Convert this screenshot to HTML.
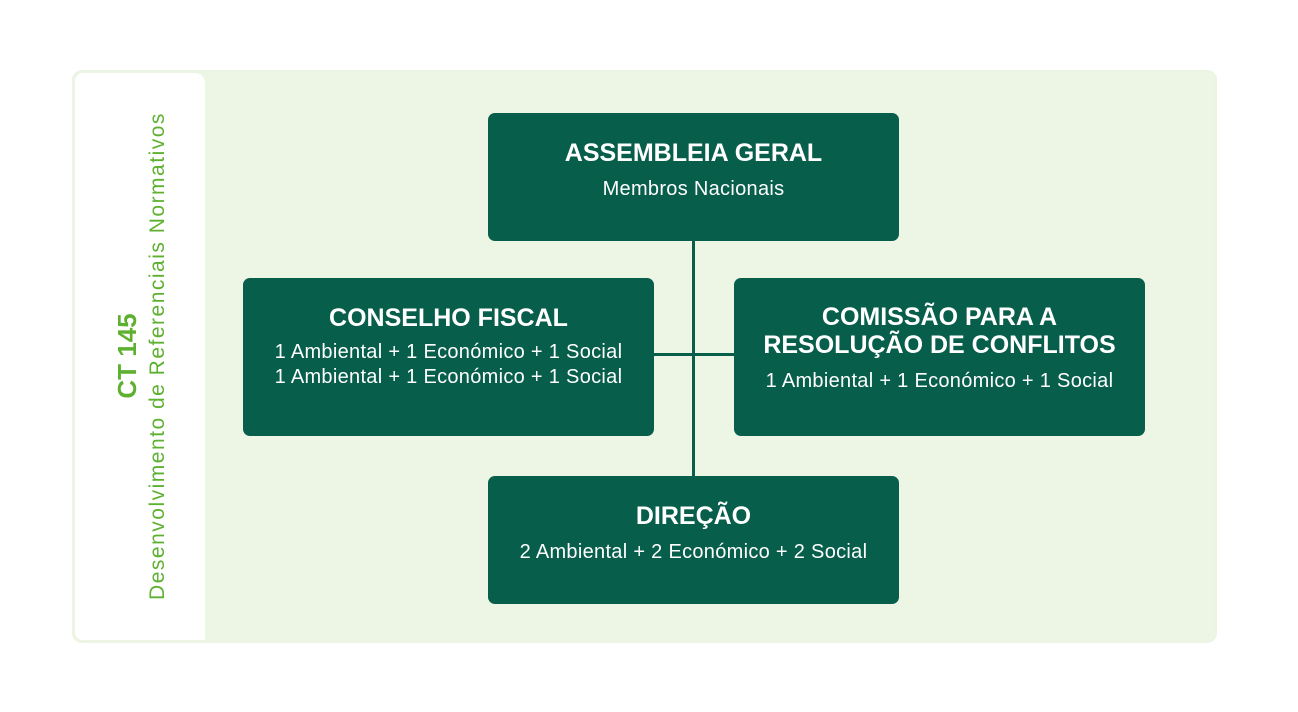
<!DOCTYPE html>
<html><head><style>
body{margin:0;width:1298px;height:712px;background:#fff;position:relative;font-family:"Liberation Sans",sans-serif;overflow:hidden}
.frame{position:absolute;left:72px;top:70px;width:1139px;height:567px;border:3px solid #ecf5e4;border-radius:10px;background:#edf5e5}
.white{position:absolute;left:75px;top:73px;width:130px;height:567px;background:#fff;border-radius:8px 10px 0 8px}
.box{position:absolute;background:#075e4b;border-radius:7px;color:#fff;text-align:center;box-sizing:border-box}
.t{font-weight:bold;font-size:25px;line-height:28px}
.s{font-size:20px;line-height:25px;letter-spacing:0.3px}
.line{position:absolute;background:#075e4b}
.rot{position:absolute;transform:rotate(-90deg);transform-origin:center;white-space:nowrap;color:#5eb130;text-align:center}
</style></head><body>
<div class="frame"></div>
<div class="white"></div>
<div class="rot" style="left:27px;top:341px;width:200px;height:30px;font-weight:bold;font-size:26px;line-height:30px">CT 145</div>
<div class="rot" style="left:-92px;top:343px;width:500px;height:26px;font-size:21px;line-height:26px;letter-spacing:1.5px">Desenvolvimento de Referenciais Normativos</div>
<div class="line" style="left:692px;top:235px;width:3px;height:245px"></div>
<div class="line" style="left:650px;top:353px;width:90px;height:3px"></div>
<div class="box" style="left:488px;top:113px;width:411px;height:128px;padding-top:26px"><div class="t">ASSEMBLEIA GERAL</div><div class="s" style="margin-top:10px">Membros Nacionais</div></div>
<div class="box" style="left:243px;top:278px;width:411px;height:158px;padding-top:26px"><div class="t">CONSELHO FISCAL</div><div class="s" style="margin-top:8px">1 Ambiental + 1 Económico + 1 Social<br>1 Ambiental + 1 Económico + 1 Social</div></div>
<div class="box" style="left:734px;top:278px;width:411px;height:158px;padding-top:25px"><div class="t">COMISSÃO PARA A<br>RESOLUÇÃO DE CONFLITOS</div><div class="s" style="margin-top:10px">1 Ambiental + 1 Económico + 1 Social</div></div>
<div class="box" style="left:488px;top:476px;width:411px;height:128px;padding-top:26px"><div class="t">DIREÇÃO</div><div class="s" style="margin-top:10px">2 Ambiental + 2 Económico + 2 Social</div></div>
</body></html>
